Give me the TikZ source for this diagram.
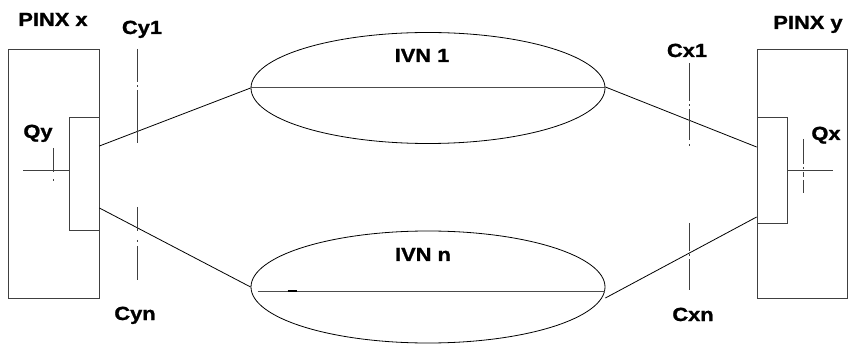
\documentclass[tikz,border=0pt]{standalone}
\usepackage{fontspec}
\newfontfamily\lblfont{Liberation Sans}[FakeStretch=1.15,FakeBold=1.2]
\usetikzlibrary{shapes.geometric}
\begin{document}
\begin{tikzpicture}[x=1pt,y=-1pt,
  boxshape/.style={draw=black!75, line width=0.8pt, minimum width=#1, inner sep=0pt},
  netshape/.style={ellipse, draw=black, line width=0.8pt, inner sep=0pt, minimum width=354pt},
  lbl/.style={font=\lblfont\bfseries\fontsize{19}{20}\selectfont, inner sep=0pt, anchor=base},
  conn/.style={black, line width=0.8pt},
  midline/.style={black!70, line width=0.9pt},
  axis/.style={black!75, line width=0.7pt}]
\useasboundingbox[fill=white] (0,0) rectangle (850,344);

% PINX boxes
\node[boxshape=91pt, minimum height=249pt] (pinxx) at (53.5,173.5) {};
\node[boxshape=30pt, minimum height=113pt] (qybox) at (84,173.5) {};
\node[boxshape=90pt, minimum height=249pt] (pinxy) at (802,173.5) {};
\node[boxshape=30pt, minimum height=106pt] (qxbox) at (772,170) {};

% IVN ellipses
\node[netshape, minimum height=111pt] (ivn1) at (428,88) {};
\node[netshape, minimum height=112pt] (ivnn) at (428,287) {};

% lines inside the ellipses
\draw[midline] ([yshift=1pt]ivn1.west) -- ([yshift=1pt]ivn1.east);
\draw[midline] ([xshift=7pt,yshift=-4pt]ivnn.west) -- ([yshift=-4pt]ivnn.east);
\draw[black, line width=2pt] ([xshift=37pt,yshift=-4pt]ivnn.west) -- ([xshift=46pt,yshift=-4pt]ivnn.west);

% connectors
\draw[conn] ([yshift=27.5pt]qybox.east) -- (ivn1.west);
\draw[conn] ([yshift=-34.5pt]qybox.east) -- (ivnn.west);
\draw[conn] ([yshift=1pt]ivn1.east) -- ([yshift=23pt]qxbox.west);
\draw[conn] ([yshift=-11pt]ivnn.east) -- ([yshift=-47pt]qxbox.west);

% Qy cross
\coordinate (qyl) at (23,170);
\draw[axis] (qyl) -- (qybox.west |- qyl);
\coordinate (qyt) at (53,148);
\coordinate (qyb) at (53,186);
\draw[axis, dash pattern=on 24pt off 7pt on 2pt off 20pt] (qyt) -- (qyb);

% Qx cross
\coordinate (qxr) at (833,170);
\draw[axis] (qxbox.east |- qxr) -- (qxr);
\coordinate (qxt) at (803,139);
\coordinate (qxb) at (803,193);
\draw[axis, dash pattern=on 25pt off 3pt on 2pt off 3pt on 5pt off 3pt on 13pt off 10pt] (qxt) -- (qxb);

% Cy axes
\coordinate (cy1a) at (137,49);
\coordinate (cy1b) at (137,143);
\draw[axis, dash pattern=on 33pt off 3pt on 2pt off 3pt on 60pt off 10pt] (cy1a) -- (cy1b);
\coordinate (cyna) at (137,207);
\coordinate (cynb) at (137,280);
\draw[axis, dash pattern=on 24pt off 9pt on 2pt off 4pt on 40pt off 10pt] (cyna) -- (cynb);

% Cx axes
\coordinate (cx1a) at (689,63);
\coordinate (cx1b) at (689,147);
\draw[axis, dash pattern=on 38pt off 3pt on 2pt off 3pt on 31pt off 4pt on 2pt off 10pt] (cx1a) -- (cx1b);
\coordinate (cxna) at (689,223);
\coordinate (cxnb) at (689,290);
\draw[axis, dash pattern=on 28pt off 3pt on 2pt off 3pt on 40pt off 10pt] (cxna) -- (cxnb);

% labels
\node[lbl] (tpinxx) at (53,26) {PINX x};
\node[lbl] (tcy1) at (142,34) {Cy1};
\node[lbl] (tcyn) at (135,320) {Cyn};
\node[lbl] (tqy) at (38,138) {Qy};
\node[lbl] (tpinxy) at (808,29) {PINX y};
\node[lbl] (tcx1) at (687,57) {Cx1};
\node[lbl] (tcxn) at (693,321) {Cxn};
\node[lbl] (tqx) at (826,140) {Qx};
\node[lbl] (tivn1) at (422,62) {IVN 1};
\node[lbl] (tivnn) at (423,261) {IVN n};
\end{tikzpicture}
\end{document}
